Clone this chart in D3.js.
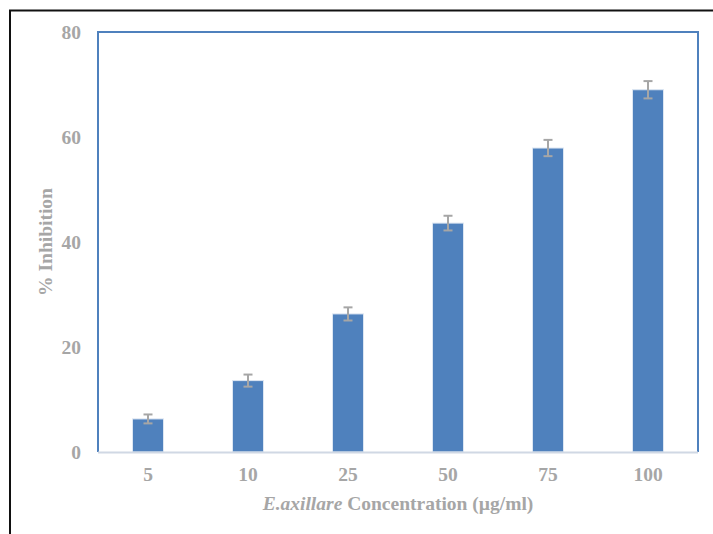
<!DOCTYPE html>
<html>
<head>
<meta charset="utf-8">
<script src="https://cdn.jsdelivr.net/npm/d3@7"></script>
<style>
html,body{margin:0;padding:0;background:#fff;}
svg{display:block;}
text{font-family:"Liberation Serif","Times New Roman",serif;font-weight:bold;fill:#a6a6a6;}
</style>
</head>
<body>
<script>
const categories = ["5", "10", "25", "50", "75", "100"];
const values = [6.3, 13.6, 26.3, 43.6, 57.9, 69.0];
const errors = [0.85, 1.15, 1.25, 1.4, 1.55, 1.65];
const yTicks = [0, 20, 40, 60, 80];

const W = 713, H = 534;
const m = {left: 98, top: 32, right: 698, bottom: 452};
const FS = 19.5;

const svg = d3.select("body").append("svg").attr("width", W).attr("height", H);

// outer frame
svg.append("rect").attr("x", 10).attr("y", 10.5).attr("width", 720).attr("height", 540)
  .attr("fill", "none").attr("stroke", "#111").attr("stroke-width", 2);

const x = d3.scaleBand().domain(categories).range([m.left, m.right]).paddingInner(0.69).paddingOuter(0.345);
const y = d3.scaleLinear().domain([0, 80]).range([m.bottom, m.top]);

// plot area border
svg.append("path")
  .attr("d", `M${m.left},${m.bottom}V${m.top}H${m.right}V${m.bottom}`)
  .attr("fill", "none").attr("stroke", "#4f81bd").attr("stroke-width", 2);

// bars
svg.append("g").selectAll("rect").data(values).join("rect")
  .attr("x", (d, i) => x(categories[i]))
  .attr("y", d => y(d))
  .attr("width", x.bandwidth())
  .attr("height", d => y(0) - y(d))
  .attr("fill", "#4f81bd")
  .attr("stroke", "#dce6f2").attr("stroke-width", 1);

// x axis line
svg.append("line").attr("x1", m.left).attr("x2", m.right).attr("y1", m.bottom + 0.5).attr("y2", m.bottom + 0.5)
  .attr("stroke", "#d0d8e4").attr("stroke-width", 2);

// error bars
const eg = svg.append("g").attr("stroke", "#a6a6a6").attr("stroke-width", 2);
values.forEach((v, i) => {
  const cx = x(categories[i]) + x.bandwidth() / 2;
  const e = errors[i];
  eg.append("line").attr("x1", cx).attr("x2", cx).attr("y1", y(v + e)).attr("y2", y(v - e));
  eg.append("line").attr("x1", cx - 4.5).attr("x2", cx + 4.5).attr("y1", y(v + e)).attr("y2", y(v + e));
  eg.append("line").attr("x1", cx - 4.5).attr("x2", cx + 4.5).attr("y1", y(v - e)).attr("y2", y(v - e));
});

// y axis labels
const ya = svg.append("g").attr("transform", `translate(${m.left},0)`)
  .call(d3.axisLeft(y).tickValues(yTicks).tickSize(0).tickPadding(17));
ya.select(".domain").remove();
ya.selectAll("text").attr("font-size", FS).style("font-family", "Liberation Serif").style("font-weight", "bold").attr("fill", "#a6a6a6");

// x axis labels
const xa = svg.append("g").attr("transform", `translate(0,${m.bottom})`)
  .call(d3.axisBottom(x).tickSize(0).tickPadding(15));
xa.select(".domain").remove();
xa.selectAll("text").attr("font-size", FS).style("font-family", "Liberation Serif").style("font-weight", "bold").attr("fill", "#a6a6a6");

// y title
svg.append("text").attr("transform", "translate(52,242) rotate(-90)")
  .attr("text-anchor", "middle").attr("font-size", FS).text("% Inhibition");

// x title
const xt = svg.append("text").attr("x", 398).attr("y", 510).attr("text-anchor", "middle").attr("font-size", FS);
xt.append("tspan").attr("font-style", "italic").text("E.axillare");
xt.append("tspan").text(" Concentration (µg/ml)");
</script>
</body>
</html>
